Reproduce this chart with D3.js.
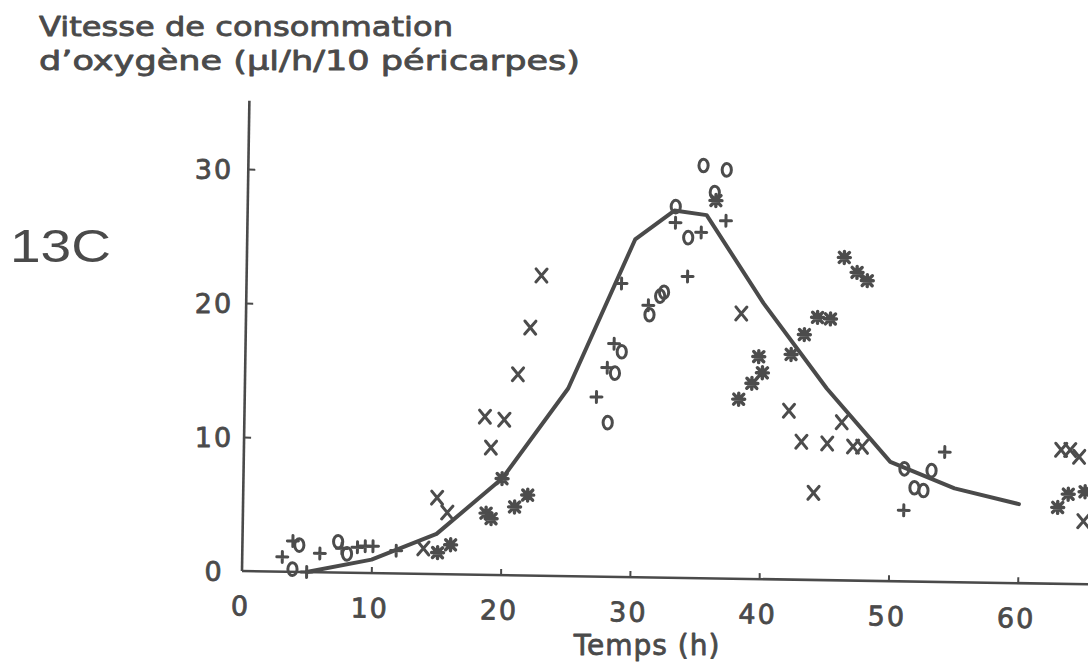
<!DOCTYPE html>
<html>
<head>
<meta charset="utf-8">
<script src="https://cdn.jsdelivr.net/npm/d3@7"></script>
<style>
  html, body { margin: 0; padding: 0; background: #fff; }
  svg { display: block; }
</style>
</head>
<body>
<svg id="chart" width="1088" height="668"></svg>
<script>
// Oxygen uptake of pericarps (13C) over time: four runs plus the mean curve.
const xTicks = [10, 20, 30, 40, 50, 60];
const xTickLabels = ["0", "10", "20", "30", "40", "50", "60"];
const yTicks = [10, 20, 30];
const yTickLabels = ["0", "10", "20", "30"];

// mean curve
const timeH    = [5, 10, 15, 20, 25, 30, 33, 35.5, 40, 45, 50, 55, 60];
const meanRate = [0, 1.0, 3.0, 7.2, 14.0, 25.2, 27.4, 27.1, 20.6, 14.3, 8.9, 7.0, 5.9];

// individual runs, [time (h), rate]
const runPlus = [
  [3.1, 1.1], [3.9, 2.3], [5.0, 0.0], [6.0, 1.4], [7.7, 1.8], [8.9, 1.9], [9.5, 2.0], [10.1, 2.0],
  [11.9, 1.7], [27.2, 13.4], [28.0, 15.6], [28.5, 17.4], [29.0, 21.9], [31.1, 20.3], [33.1, 26.5],
  [34.1, 22.5], [35.1, 25.8], [37.0, 26.7], [51.1, 5.3], [54.2, 9.7]
];
const runCircle = [
  [3.9, 0.2], [4.4, 2.0], [7.4, 2.3], [8.1, 1.4], [28.1, 11.5], [28.6, 15.2], [29.1, 16.8],
  [31.2, 19.6], [32.0, 21.0], [32.3, 21.3], [33.1, 27.7], [34.1, 25.4], [35.2, 30.8], [36.1, 28.8],
  [37.0, 30.5], [51.1, 8.4], [51.9, 7.0], [52.6, 6.8], [53.2, 8.3]
];
const runCross = [
  [14.0, 1.9], [15.0, 5.7], [15.8, 4.6], [18.6, 11.8], [19.1, 9.5], [20.1, 11.6], [21.1, 15.0],
  [22.0, 18.5], [22.8, 22.4], [38.3, 19.8], [42.1, 12.6], [43.1, 10.3], [44.1, 6.5], [45.1, 10.2],
  [46.2, 11.8], [47.1, 10.0], [47.8, 10.0], [63.2, 10.0], [63.9, 10.0], [64.6, 9.5], [65.0, 4.7]
];
const runStar = [
  [15.1, 1.6], [16.1, 2.2], [18.8, 4.6], [19.2, 4.2], [20.0, 7.2], [21.0, 5.1], [22.0, 6.0],
  [36.2, 28.2], [38.2, 13.4], [39.2, 14.6], [39.7, 16.6], [40.0, 15.4], [42.2, 16.8], [43.2, 18.3],
  [44.2, 19.6], [45.2, 19.5], [46.2, 24.1], [47.2, 23.0], [48.0, 22.4], [63.0, 5.7], [63.8, 6.7],
  [65.1, 6.9]
];

const ink = "#4a4a4a";
const svg = d3.select("#chart");

const origin = { x: 242, y: 571 };
const tilt = 0.9; // degrees, the plotted frame sits slightly skewed

const x = d3.scaleLinear().domain([0, 65]).range([0, 65 * 12.93]);
const y = d3.scaleLinear().domain([0, 30]).range([0, -30 * 13.4]);

const plot = svg.append("g")
  .attr("transform", `translate(${origin.x},${origin.y}) rotate(${tilt})`);

// axes frame
plot.append("line")
  .attr("x1", 0).attr("y1", 0).attr("x2", 0).attr("y2", y(35.1))
  .attr("stroke", ink).attr("stroke-width", 2.6);
plot.append("line")
  .attr("x1", 0).attr("y1", 0).attr("x2", x(68)).attr("y2", 0)
  .attr("stroke", ink).attr("stroke-width", 2.6);

// ticks (pointing into the plot)
const xAxis = d3.axisTop(x).tickValues(xTicks).tickSize(6).tickFormat("");
const xg = plot.append("g").call(xAxis);
xg.select(".domain").remove();
xg.selectAll(".tick line").attr("stroke", ink).attr("stroke-width", 2);

const yAxis = d3.axisRight(y).tickValues(yTicks).tickSize(7).tickFormat("");
const yg = plot.append("g").call(yAxis);
yg.select(".domain").remove();
yg.selectAll(".tick line").attr("stroke", ink).attr("stroke-width", 2);

// shared text style: slightly heavy strokes like a pen plotter
function penText(sel, size) {
  return sel
    .attr("font-family", "'DejaVu Sans', sans-serif")
    .attr("font-size", size)
    .attr("fill", ink)
    .attr("stroke", ink)
    .attr("stroke-width", 0.8)
    .attr("stroke-linejoin", "round");
}

// x tick labels follow the skewed baseline
plot.append("g").selectAll("text")
  .data(xTickLabels)
  .join("text")
  .attr("x", d => x(+d) - 1)
  .attr("y", 35)
  .attr("text-anchor", "middle")
  .attr("dominant-baseline", "central")
  .attr("letter-spacing", 2)
  .call(penText, 27)
  .text(d => d);

// y tick labels
svg.append("g").selectAll("text")
  .data(yTickLabels)
  .join("text")
  .attr("x", 214)
  .attr("y", d => origin.y + y(+d))
  .attr("text-anchor", "middle")
  .attr("dominant-baseline", "central")
  .attr("letter-spacing", 2)
  .call(penText, 27)
  .text(d => d);

// mean curve
const line = d3.line().x((d, i) => x(timeH[i])).y(d => y(d));
plot.append("path")
  .datum(meanRate)
  .attr("d", line)
  .attr("fill", "none")
  .attr("stroke", ink)
  .attr("stroke-width", 4)
  .attr("stroke-linejoin", "round")
  .attr("stroke-linecap", "round");

// markers
const markers = plot.append("g")
  .attr("stroke", "#4c4c4c")
  .attr("fill", "none")
  .attr("stroke-linecap", "round");

const plusPath = "M-5.5,0H5.5M0,-5.5V5.5";
const crossPath = "M-5.5,-6.5L5.5,6.5M5.5,-6.5L-5.5,6.5";
const starPath = "M-5,-5L5,5M5,-5L-5,5M-6,0H6M0,-6V6";

markers.append("g").selectAll("path")
  .data(runPlus).join("path")
  .attr("transform", d => `translate(${x(d[0])},${y(d[1])})`)
  .attr("d", plusPath).attr("stroke-width", 3);

markers.append("g").selectAll("ellipse")
  .data(runCircle).join("ellipse")
  .attr("cx", d => x(d[0])).attr("cy", d => y(d[1]))
  .attr("rx", 4.6).attr("ry", 6.3).attr("stroke-width", 3);

markers.append("g").selectAll("path")
  .data(runCross).join("path")
  .attr("transform", d => `translate(${x(d[0])},${y(d[1])})`)
  .attr("d", crossPath).attr("stroke-width", 3);

markers.append("g").selectAll("path")
  .data(runStar).join("path")
  .attr("transform", d => `translate(${x(d[0])},${y(d[1])})`)
  .attr("d", starPath).attr("stroke-width", 3.4);

// titles
const title = svg.append("g");
title.append("text")
  .attr("x", 39).attr("y", 36)
  .call(penText, 27)
  .attr("textLength", 414).attr("lengthAdjust", "spacingAndGlyphs")
  .text("Vitesse de consommation");
title.append("text")
  .attr("x", 39).attr("y", 70)
  .call(penText, 27)
  .attr("textLength", 541).attr("lengthAdjust", "spacingAndGlyphs")
  .text("d’oxygène (µl/h/10 péricarpes)");

svg.append("text")
  .attr("x", 10).attr("y", 262)
  .attr("font-family", "'Liberation Sans', Arial, sans-serif")
  .attr("font-size", 46)
  .attr("textLength", 101).attr("lengthAdjust", "spacingAndGlyphs")
  .attr("fill", ink)
  .text("13C");

svg.append("text")
  .attr("x", 647).attr("y", 655)
  .attr("text-anchor", "middle")
  .attr("letter-spacing", 1)
  .call(penText, 28)
  .text("Temps (h)");
</script>
</body>
</html>
